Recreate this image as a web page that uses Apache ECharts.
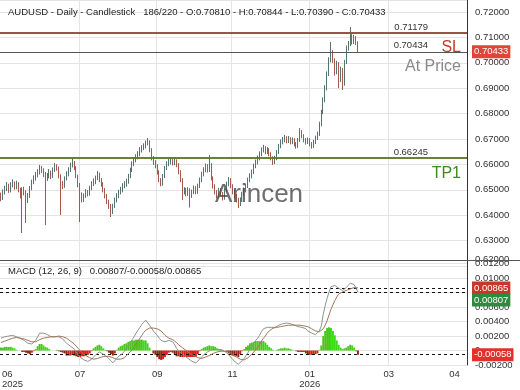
<!DOCTYPE html>
<html><head><meta charset="utf-8">
<script src="https://cdn.jsdelivr.net/npm/echarts@6/dist/echarts.min.js"></script>
<style>html,body{margin:0;padding:0;background:#fff}#c{width:520px;height:390px}</style>
</head><body><div id="c"></div>
<script>
// [open, high, low, close]
const ohlc = [
[.6475,.6489,.6455,.6468],[.6468,.6502,.6460,.6491],[.6491,.6516,.6482,.6507],[.6507,.6531,.6495,.6515],[.6515,.6524,.6488,.6499],
[.6499,.6530,.6490,.6519],[.6519,.6541,.6510,.6527],[.6527,.6533,.6500,.6511],[.6511,.6536,.6502,.6523],[.6523,.6530,.6490,.6499],
[.6499,.6508,.6466,.6480],[.6480,.6510,.6330,.6499],[.6499,.6512,.6478,.6491],[.6491,.6498,.6369,.6460],[.6460,.6487,.6448,.6476],
[.6476,.6515,.6468,.6507],[.6507,.6540,.6498,.6531],[.6531,.6557,.6522,.6546],[.6546,.6570,.6536,.6558],[.6558,.6581,.6549,.6570],
[.6570,.6598,.6560,.6586],[.6586,.6594,.6566,.6578],[.6578,.6585,.6550,.6562],[.6562,.6570,.6361,.6546],[.6546,.6566,.6535,.6554],
[.6554,.6582,.6545,.6570],[.6570,.6576,.6542,.6554],[.6554,.6588,.6547,.6578],[.6578,.6605,.6570,.6594],[.6594,.6601,.6575,.6586],
[.6586,.6592,.6545,.6554],[.6554,.6561,.6401,.6523],[.6523,.6535,.6503,.6515],[.6515,.6553,.6508,.6546],[.6546,.6573,.6537,.6562],
[.6562,.6589,.6553,.6578],[.6578,.6607,.6570,.6598],[.6598,.6625,.6588,.6609],[.6609,.6614,.6578,.6586],[.6586,.6593,.6546,.6554],
[.6554,.6560,.6510,.6519],[.6519,.6527,.6373,.6480],[.6480,.6490,.6450,.6460],[.6460,.6486,.6452,.6476],[.6476,.6503,.6468,.6491],
[.6491,.6499,.6474,.6484],[.6484,.6516,.6477,.6507],[.6507,.6534,.6498,.6523],[.6523,.6545,.6515,.6531],[.6531,.6556,.6522,.6546],
[.6546,.6574,.6538,.6562],[.6562,.6568,.6530,.6539],[.6539,.6546,.6512,.6523],[.6523,.6530,.6490,.6499],[.6499,.6507,.6466,.6476],
[.6476,.6484,.6443,.6452],[.6452,.6461,.6425,.6436],[.6436,.6444,.6393,.6413],[.6413,.6445,.6405,.6436],[.6436,.6469,.6428,.6460],
[.6460,.6487,.6450,.6476],[.6476,.6500,.6467,.6491],[.6491,.6512,.6482,.6499],[.6499,.6526,.6490,.6515],[.6515,.6534,.6506,.6523],
[.6523,.6544,.6512,.6531],[.6531,.6563,.6524,.6554],[.6554,.6587,.6546,.6578],[.6578,.6612,.6570,.6602],[.6602,.6628,.6593,.6617],
[.6617,.6640,.6608,.6629],[.6629,.6652,.6620,.6641],[.6641,.6668,.6632,.6657],[.6657,.6676,.6647,.6665],[.6665,.6683,.6656,.6672],
[.6672,.6694,.6663,.6684],[.6684,.6704,.6675,.6688],[.6688,.6695,.6648,.6657],[.6657,.6664,.6616,.6625],[.6625,.6633,.6598,.6609],
[.6609,.6617,.6585,.6594],[.6594,.6601,.6560,.6570],[.6570,.6577,.6530,.6539],[.6539,.6546,.6514,.6523],[.6523,.6562,.6516,.6554],
[.6554,.6594,.6546,.6586],[.6586,.6612,.6578,.6602],[.6602,.6621,.6593,.6609],[.6609,.6628,.6600,.6617],[.6617,.6625,.6596,.6605],
[.6605,.6624,.6597,.6613],[.6613,.6620,.6589,.6598],[.6598,.6605,.6561,.6570],[.6570,.6577,.6530,.6539],[.6539,.6546,.6460,.6491],
[.6491,.6510,.6482,.6499],[.6499,.6508,.6474,.6484],[.6484,.6510,.6476,.6499],[.6499,.6506,.6430,.6476],[.6476,.6501,.6468,.6491],
[.6491,.6517,.6483,.6507],[.6507,.6514,.6482,.6491],[.6491,.6524,.6484,.6515],[.6515,.6548,.6507,.6539],[.6539,.6571,.6530,.6562],
[.6562,.6589,.6553,.6578],[.6578,.6604,.6569,.6594],[.6594,.6601,.6568,.6578],[.6578,.6637,.6570,.6598],[.6598,.6605,.6537,.6546],
[.6546,.6553,.6505,.6515],[.6515,.6522,.6482,.6491],[.6491,.6499,.6466,.6476],[.6476,.6508,.6469,.6499],[.6499,.6507,.6474,.6484],
[.6484,.6491,.6458,.6468],[.6468,.6507,.6461,.6499],[.6499,.6532,.6491,.6523],[.6523,.6550,.6514,.6539],[.6539,.6546,.6506,.6515],
[.6515,.6522,.6482,.6491],[.6491,.6499,.6466,.6476],[.6476,.6484,.6450,.6460],[.6460,.6469,.6428,.6444],[.6444,.6470,.6436,.6460],
[.6460,.6492,.6452,.6484],[.6484,.6509,.6476,.6499],[.6499,.6525,.6490,.6515],[.6515,.6548,.6507,.6539],[.6539,.6565,.6530,.6554],
[.6554,.6580,.6545,.6570],[.6570,.6603,.6562,.6594],[.6594,.6619,.6585,.6609],[.6609,.6635,.6600,.6625],[.6625,.6651,.6616,.6641],
[.6641,.6667,.6632,.6657],[.6657,.6677,.6647,.6665],[.6665,.6672,.6640,.6649],[.6649,.6668,.6641,.6657],[.6657,.6664,.6632,.6641],
[.6641,.6648,.6616,.6625],[.6625,.6632,.6598,.6609],[.6609,.6634,.6601,.6625],[.6625,.6657,.6617,.6649],[.6649,.6681,.6641,.6672],
[.6672,.6698,.6664,.6688],[.6688,.6708,.6679,.6696],[.6696,.6716,.6687,.6704],[.6704,.6711,.6683,.6692],[.6692,.6712,.6684,.6700],
[.6700,.6707,.6679,.6688],[.6688,.6706,.6680,.6696],[.6696,.6703,.6671,.6680],[.6680,.6688,.6662,.6672],[.6672,.6704,.6665,.6696],
[.6696,.6743,.6689,.6728],[.6728,.6735,.6703,.6712],[.6712,.6719,.6687,.6696],[.6696,.6704,.6678,.6688],[.6688,.6706,.6680,.6696],
[.6696,.6703,.6671,.6680],[.6680,.6688,.6662,.6672],[.6672,.6697,.6665,.6688],[.6688,.6713,.6680,.6704],[.6704,.6729,.6696,.6720],
[.6720,.6768,.6712,.6759],[.6759,.6815,.6750,.6806],[.6806,.6864,.6798,.6854],[.6854,.6912,.6845,.6901],[.6901,.6966,.6892,.6956],
[.6956,.7022,.6948,.7011],[.7011,.7082,.7002,.7043],[.7043,.7050,.7000,.7011],[.7011,.7018,.6950,.6964],[.6964,.7008,.6955,.6996],
[.6996,.7003,.6900,.6932],[.6932,.6985,.6925,.6972],[.6972,.6980,.6893,.6917],[.6917,.7012,.6910,.7003],[.7003,.7068,.6995,.7058],
[.7058,.7086,.7048,.7074],[.7074,.7141,.7066,.7106],[.7106,.7113,.7072,.7082],[.7082,.7110,.7074,.7098],[.7098,.7105,.7070,.7081],
[.70810,.70844,.70390,.70433]
];
const macdLine = [
.0017,.0018,.0019,.0020,.0020,.0021,.0021,.0020,.0019,.0018,
.0017,.0015,.0014,.0012,.0010,.0008,.0009,.0011,.0014,.0019,
.0024,.0025,.0024,.0023,.0022,.0021,.0019,.0019,.0019,.0020,
.0019,.0018,.0016,.0014,.0010,.0008,.0006,.0005,.0002,-.0002,
-.0006,-.0009,-.0011,-.0013,-.0014,-.0015,-.0014,-.0012,-.0009,-.0006,
-.0004,-.0002,-.0003,-.0005,-.0007,-.0009,-.0011,-.0014,-.0017,-.0015,
-.0011,-.0008,-.0006,-.0004,-.0001,.0003,.0007,.0011,.0015,.0019,
.0024,.0028,.0032,.0036,.0039,.0042,.0040,.0035,.0031,.0027,
.0024,.0021,.0017,.0014,.0012,.0012,.0013,.0014,.0014,.0012,
.0008,.0003,0,-.0003,-.0005,-.0007,-.0009,-.0011,-.0013,-.0015,
-.0016,-.0017,-.0015,-.0012,-.0009,-.0006,-.0004,-.0002,0,.0001,
.0002,.0002,.0001,.0001,.0001,0,-.0001,-.0003,-.0006,-.0009,
-.0012,-.0015,-.0017,-.0019,-.0017,-.0014,-.0011,-.0007,-.0003,.0002,
.0006,.0010,.0014,.0017,.0021,.0026,.0030,.0031,.0032,.0032,
.0032,.0032,.0032,.0033,.0035,.0036,.0037,.0038,.0038,.0038,
.0037,.0036,.0035,.0034,.0033,.0033,.0032,.0032,.0030,.0027,
.0025,.0024,.0023,.0022,.0022,.0027,.0034,.0050,.0062,.0072,
.0081,.0088,.0090,.0090,.0088,.0086,.0084,.0083,.0085,.0087,
.0090,.0093,.0093,.0091,.0086,.00807
];
const signalLine = [
.0011,.0012,.0013,.0014,.0015,.0016,.0017,.0017,.0018,.0018,
.0017,.0017,.0016,.0015,.0014,.0013,.0012,.0012,.0012,.0013,
.0015,.0016,.0017,.0018,.0018,.0019,.0019,.0019,.0019,.0019,
.0020,.0020,.0019,.0018,.0017,.0015,.0013,.0011,.0009,.0006,
.0003,0,-.0003,-.0005,-.0007,-.0009,-.0010,-.0011,-.0012,-.0011,
-.0011,-.0010,-.0009,-.0008,-.0008,-.0008,-.0008,-.0009,-.0010,-.0011,
-.0012,-.0012,-.0012,-.0011,-.0010,-.0007,-.0005,-.0002,.0001,.0005,
.0009,.0013,.0017,.0021,.0025,.0028,.0030,.0031,.0031,.0031,
.0030,.0030,.0029,.0027,.0024,.0021,.0019,.0017,.0016,.0015,
.0013,.0011,.0008,.0006,.0004,.0002,0,-.0002,-.0004,-.0006,
-.0007,-.0008,-.0010,-.0011,-.0011,-.0010,-.0009,-.0008,-.0007,-.0005,
-.0004,-.0003,-.0002,-.0001,-.0001,-.0001,-.0001,-.0001,-.0002,-.0003,
-.0005,-.0007,-.0009,-.0010,-.0012,-.0013,-.0013,-.0012,-.0010,-.0008,
-.0005,-.0002,.0001,.0004,.0008,.0013,.0017,.0020,.0024,.0027,
.0029,.0031,.0032,.0032,.0033,.0033,.0034,.0034,.0035,.0035,
.0035,.0035,.0035,.0035,.0035,.0035,.0034,.0034,.0034,.0033,
.0031,.0030,.0028,.0027,.0026,.0026,.0027,.0030,.0035,.0041,
.0049,.0057,.0063,.0069,.0074,.0078,.0080,.0081,.0082,.0083,
.0084,.0085,.0086,.0087,.0087,.00865
];
const histValues = [
.0004,.0004,.0005,.0005,.0005,.0005,.0004,.0003,.0001,0,
0,-.0002,-.0002,-.0003,-.0004,-.0005,-.0003,-.0001,.0002,.0006,
.0009,.0009,.0007,.0005,.0004,.0002,0,0,0,.0001,
-.0001,-.0002,-.0003,-.0004,-.0007,-.0007,-.0007,-.0006,-.0007,-.0008,
-.0009,-.0009,-.0008,-.0008,-.0007,-.0006,-.0004,-.0001,.0003,.0005,
.0007,.0008,.0006,.0003,.0001,-.0001,-.0003,-.0005,-.0007,-.0004,
.0001,.0004,.0006,.0007,.0009,.0010,.0012,.0013,.0014,.0014,
.0015,.0015,.0015,.0015,.0014,.0014,.0010,.0004,0,-.0004,
-.0006,-.0009,-.0012,-.0013,-.0012,-.0009,-.0006,-.0003,-.0002,-.0003,
-.0005,-.0008,-.0008,-.0009,-.0009,-.0009,-.0009,-.0009,-.0009,-.0009,
-.0009,-.0009,-.0005,-.0001,.0002,.0004,.0005,.0006,.0007,.0006,
.0006,.0005,.0003,.0002,.0002,.0001,0,-.0002,-.0004,-.0006,
-.0007,-.0008,-.0008,-.0009,-.0005,-.0001,.0002,.0005,.0007,.0010,
.0011,.0012,.0013,.0013,.0013,.0013,.0013,.0011,.0008,.0005,
.0003,.0001,0,.0001,.0002,.0003,.0003,.0004,.0003,.0003,
.0002,.0001,0,-.0001,-.0002,-.0002,-.0002,-.0002,-.0004,-.0006,
-.0006,-.0006,-.0005,-.0005,-.0004,.0001,.0007,.0020,.0027,.0031,
.0032,.0031,.0027,.0021,.0014,.0008,.0004,.0002,.0003,.0004,
.0006,.0008,.0007,.0004,-.0001,-.00058
];
const slotCount = 242;
const tickIdx = [6, 41, 81, 120, 160, 201, 235];
const tickText = ['06\n2025', '07', '09', '11', '01\n2026', '03', '04'];
const gridIdx = [41, 81, 120, 160, 201];
const levelSL = 0.71179, levelPrice = 0.70434, levelTP1 = 0.66245, lastClose = 0.70433;
const lastMacd = 0.00807, lastHist = -0.00058, lastSignal = 0.00865;
const titleText = 'AUDUSD - Daily - Candlestick   186/220 - O:0.70810 - H:0.70844 - L:0.70390 - C:0.70433';
const macdTitle = 'MACD (12, 26, 9)   0.00807/-0.00058/0.00865';

const categories = Array.from({length: slotCount}, (_, i) => String(i));
const FONT = 'Liberation Sans, Arial, sans-serif';
const chart = echarts.init(document.getElementById('c'), null, {renderer: 'canvas'});

const xBase = (gi, showLabel) => ({
  type: 'category', gridIndex: gi, data: categories, boundaryGap: true,
  axisLine: {show: false}, axisTick: {show: false},
  axisLabel: {
    show: showLabel, interval: (i) => tickIdx.indexOf(i) >= 0,
    formatter: (v, i) => {
      const k = tickIdx.indexOf(Number(v));
      if (k < 0) return '';
      if (k === 0) return tickText[0].split('\n').map(s => '{f|' + s + '}').join('\n');
      return tickText[k];
    },
    rich: {f: {align: 'left', color: '#333', fontSize: 9.5, fontFamily: FONT, lineHeight: 10}},
    color: '#333', fontSize: 9.5, fontFamily: FONT, lineHeight: 10, margin: 4, hideOverlap: false
  },
  splitLine: {show: true, interval: (i) => gridIdx.indexOf(i) >= 0, lineStyle: {color: '#e4e4e4', width: 1}}
});

const valLabel = (pos, text, color, size, dist, pad) => ({
  show: true, position: pos, formatter: text, color: color, fontSize: size, fontFamily: FONT,
  distance: dist, padding: pad || 0
});

const mainLines = [
  {yAxis: levelSL, lineStyle: {color: '#8e4b3e', width: 1.5, type: 'solid'}, label: valLabel('insideEndTop', levelSL.toFixed(5), '#333', 9.5, [5, 1], [0, 34, 0, 0])},
  {yAxis: levelSL, lineStyle: {color: '#8e4b3e', width: 1.5, type: 'solid'}, label: valLabel('insideEndBottom', 'SL', '#c0392b', 16, [6, 7])},
  {yAxis: levelPrice, lineStyle: {color: '#555', width: 1, type: 'solid'}, label: valLabel('insideEndTop', levelPrice.toFixed(5), '#333', 9.5, [5, 1], [0, 34, 0, 0])},
  {yAxis: levelPrice, lineStyle: {color: '#555', width: 1, type: 'solid'}, label: valLabel('insideEndBottom', 'At Price', '#8a8a8a', 16, [6, 7])},
  {yAxis: levelTP1, lineStyle: {color: '#5b7a28', width: 1.5, type: 'solid'}, label: valLabel('insideEndTop', levelTP1.toFixed(5), '#333', 9.5, [5, 1], [0, 34, 0, 0])},
  {yAxis: levelTP1, lineStyle: {color: '#5b7a28', width: 1.5, type: 'solid'}, label: valLabel('insideEndBottom', 'TP1', '#3f8a1f', 16, [6, 7])},
  {yAxis: lastClose, lineStyle: {color: '#555', width: 1, type: 'solid'}, label: {show: true, position: 'end', formatter: lastClose.toFixed(5), color: '#fff', backgroundColor: '#e0453a', padding: [2, 2, 1, 2], fontSize: 9.5, fontFamily: FONT, distance: 5}}
];

const dashed = {color: '#111', width: 1, type: [3, 3]};
const macdLines = [
  {yAxis: lastSignal, lineStyle: dashed, label: {show: true, position: 'end', formatter: lastSignal.toFixed(5), color: '#fff', backgroundColor: '#c7372b', padding: [2, 2, 1, 2], fontSize: 9.5, fontFamily: FONT, distance: 5}},
  {yAxis: lastMacd, lineStyle: dashed, label: {show: true, position: 'end', formatter: '{a|' + lastMacd.toFixed(5) + '}', padding: [16, 0, 0, 0], distance: 5,
     rich: {a: {color: '#fff', backgroundColor: '#2d8a3e', padding: [2, 2, 1, 2], fontSize: 9.5, fontFamily: FONT}}}},
  {yAxis: lastHist, lineStyle: dashed, label: {show: true, position: 'end', formatter: lastHist.toFixed(5), color: '#fff', backgroundColor: '#e3302b', padding: [2, 2, 1, 2], fontSize: 9.5, fontFamily: FONT, distance: 5}}
];

const histColor = (p) => {
  const i = p.dataIndex, v = histValues[i], prev = i > 0 ? histValues[i - 1] : v;
  if (v >= 0) return v >= prev ? '#4cc41c' : '#39dc12';
  return v < prev ? '#8c2a0e' : '#e01b12';
};

chart.setOption({
  animation: false,
  backgroundColor: '#fff',
  textStyle: {fontFamily: FONT},
  title: [
    {text: titleText, left: 8, top: 7, padding: 0, textStyle: {fontSize: 9.5, fontWeight: 'normal', color: '#222', fontFamily: FONT}},
    {text: macdTitle, left: 8, top: 266.5, padding: 0, textStyle: {fontSize: 9.5, fontWeight: 'normal', color: '#222', fontFamily: FONT}}
  ],
  grid: [
    {left: 0, right: 53, top: 0, height: 266, containLabel: false, outerBoundsMode: 'none'},
    {left: 0, right: 53, top: 260, height: 105, containLabel: false, outerBoundsMode: 'none'}
  ],
  xAxis: [xBase(0, false), xBase(1, true)],
  yAxis: [
    {type: 'value', gridIndex: 0, position: 'right', min: 0.62, max: 0.72474, interval: 0.01, scale: true,
     axisLine: {show: true, lineStyle: {color: '#333', width: 1}}, axisTick: {show: false},
     axisLabel: {showMaxLabel: false, showMinLabel: true, color: '#333', fontSize: 9.5, fontFamily: FONT, margin: 8,
       formatter: (v) => Math.abs(v - 0.62) < 1e-9 ? '{lo|' + v.toFixed(5) + '}' : v.toFixed(5),
       rich: {lo: {padding: [0, 0, 14, 0], fontSize: 9.5, color: '#333', fontFamily: FONT}}},
     splitLine: {show: true, lineStyle: {color: '#e4e4e4', width: 1}}},
    {type: 'value', gridIndex: 1, position: 'right', min: -0.002, max: 0.0125, interval: 0.002,
     axisLine: {show: true, lineStyle: {color: '#333', width: 1}}, axisTick: {show: false},
     axisLabel: {showMaxLabel: false, color: '#333', fontSize: 9.5, fontFamily: FONT, margin: 8,
       formatter: (v) => Math.abs(v) < 1e-9 ? '0' : v.toFixed(5)},
     splitLine: {show: true, lineStyle: {color: '#e4e4e4', width: 1}}}
  ],
  series: [
    {type: 'candlestick', xAxisIndex: 0, yAxisIndex: 0, barWidth: 1,
     data: ohlc.map(r => [r[0], r[3], r[2], r[1]]),
     itemStyle: {color: '#55736f', color0: '#a5584e', borderColor: '#55736f', borderColor0: '#a5584e', borderWidth: 1},
     markLine: {silent: true, precision: 5, symbol: ['none', 'none'], animation: false, data: mainLines}},
    {type: 'bar', xAxisIndex: 1, yAxisIndex: 1, data: histValues, barCategoryGap: '0%',
     itemStyle: {color: histColor},
     markLine: {silent: true, precision: 5, symbol: ['none', 'none'], animation: false, data: macdLines}},
    {type: 'line', xAxisIndex: 1, yAxisIndex: 1, data: macdLine, showSymbol: false, symbol: 'none',
     lineStyle: {color: '#8a968c', width: 1}, z: 5},
    {type: 'line', xAxisIndex: 1, yAxisIndex: 1, data: signalLine, showSymbol: false, symbol: 'none',
     lineStyle: {color: '#a5755a', width: 1}, z: 5}
  ],
  graphic: [
    {type: 'line', shape: {x1: 0, y1: 260.5, x2: 520, y2: 260.5}, style: {stroke: '#555', lineWidth: 1}, z: 50, silent: true},
    {type: 'text', x: 259, y: 195, z: 60, silent: true,
     style: {text: 'Arincen', fontSize: 26, fontFamily: FONT, fill: 'rgba(70,70,70,0.78)', textAlign: 'center', textVerticalAlign: 'middle'}}
  ]
});
</script>
</body></html>
